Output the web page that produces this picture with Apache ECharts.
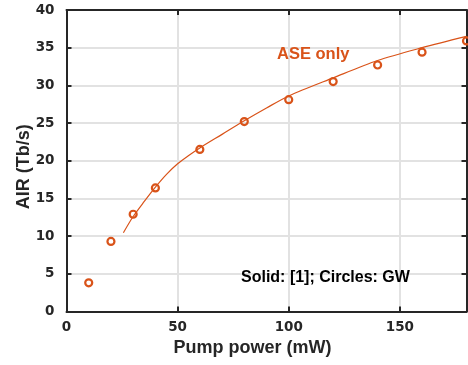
<!DOCTYPE html>
<html>
<head>
<meta charset="utf-8">
<script src="https://cdn.jsdelivr.net/npm/echarts@6/dist/echarts.min.js"></script>
<style>
    html, body { margin: 0; padding: 0; background: #fff; }
    #main { width: 468px; height: 365px; }
</style>
</head>
<body>
<div id="main"></div>
<script>
// GW circles (pump power mW, AIR Tb/s)
var gwPower = [10, 20, 30, 40, 60, 80, 100, 120, 140, 160, 180];
var gwAir = [3.8, 9.3, 12.9, 16.4, 21.5, 25.2, 28.1, 30.5, 32.7, 34.4, 35.9];
// solid curve from [1]
var refPower = [25.6, 30, 35, 40, 45, 50, 55, 60, 70, 80, 90, 100, 120, 140, 160, 180];
var refAir = [10.45, 12.6, 14.6, 16.5, 18.2, 19.6, 20.7, 21.7, 23.5, 25.3, 27.0, 28.6, 31.0, 33.3, 35.0, 36.5];
var xTicks = [0, 50, 100, 150];
var yTicks = [0, 5, 10, 15, 20, 25, 30, 35, 40];

var orange = '#D95319';
var dark = '#262626';

var myChart = echarts.init(document.getElementById('main'));

function pairs(xs, ys) {
    var res = [];
    for (var i = 0; i < xs.length; i++) {
        res.push([xs[i], ys[i]]);
    }
    return res;
}

var tickFont = {
    fontFamily: 'DejaVu Sans',
    fontWeight: 'bold',
    fontSize: 13.5,
    color: dark
};

var boxLine = { show: true, onZero: false, lineStyle: { color: dark, width: 2 } };
var inTick = { show: true, inside: true, length: 5, lineStyle: { color: dark, width: 2 } };

option = {
    animation: false,
    grid: { left: 66.5, right: 1.5, top: 10, bottom: 53.5, containLabel: false },
    xAxis: [{
        type: 'value',
        position: 'bottom',
        min: 0,
        max: 180,
        interval: 50,
        axisLine: boxLine,
        axisTick: inTick,
        axisLabel: {
            margin: 9,
            showMaxLabel: false,
            formatter: function (v) {
                return xTicks.indexOf(v) >= 0 ? v : '';
            },
            textStyle: tickFont
        },
        splitLine: { show: true, lineStyle: { color: '#e2e2e2', width: 2 } },
        name: 'Pump power (mW)',
        nameLocation: 'middle',
        nameGap: 28,
        nameTextStyle: {
            fontFamily: 'Liberation Sans',
            fontWeight: 'bold',
            fontSize: 18,
            color: dark,
            padding: [0, 28, 0, 0]
        }
    }, {
        type: 'value',
        position: 'top',
        min: 0,
        max: 180,
        interval: 50,
        axisLine: boxLine,
        axisTick: inTick,
        axisLabel: { show: false },
        splitLine: { show: false }
    }],
    yAxis: [{
        type: 'value',
        position: 'left',
        min: 0,
        max: 40,
        interval: 5,
        axisLine: boxLine,
        axisTick: inTick,
        axisLabel: {
            margin: 12,
            formatter: function (v) {
                return yTicks.indexOf(v) >= 0 ? v : '';
            },
            textStyle: tickFont
        },
        splitLine: { show: true, lineStyle: { color: '#e2e2e2', width: 2 } },
        name: 'AIR (Tb/s)',
        nameLocation: 'middle',
        nameGap: 33,
        nameMoveOverlap: false,
        nameTextStyle: {
            fontFamily: 'Liberation Sans',
            fontWeight: 'bold',
            fontSize: 18,
            color: dark,
            padding: [0, 12, 0, 0]
        }
    }, {
        type: 'value',
        position: 'right',
        min: 0,
        max: 40,
        interval: 5,
        axisLine: boxLine,
        axisTick: inTick,
        axisLabel: { show: false },
        splitLine: { show: false }
    }],
    graphic: [{
        type: 'text',
        left: 277,
        top: 46,
        z: 100,
        style: {
            text: 'ASE only',
            fill: orange,
            font: 'bold 16.5px "Liberation Sans"'
        }
    }, {
        type: 'text',
        left: 241,
        top: 270,
        z: 100,
        style: {
            text: 'Solid: [1]; Circles: GW',
            fill: '#000',
            font: 'bold 16px "Liberation Sans"'
        }
    }],
    series: [{
        name: '[1]',
        type: 'line',
        smooth: 0.3,
        showSymbol: false,
        data: pairs(refPower, refAir),
        lineStyle: { color: orange, width: 1.2 },
        z: 2
    }, {
        name: 'GW',
        type: 'scatter',
        symbol: 'circle',
        symbolSize: 7,
        data: pairs(gwPower, gwAir),
        itemStyle: { color: 'rgba(255,255,255,0)', borderColor: orange, borderWidth: 2.2, opacity: 1 },
        z: 3
    }]
};

myChart.setOption(option);

window.addEventListener('resize', function () {
    myChart.resize();
});
</script>
</body>
</html>
